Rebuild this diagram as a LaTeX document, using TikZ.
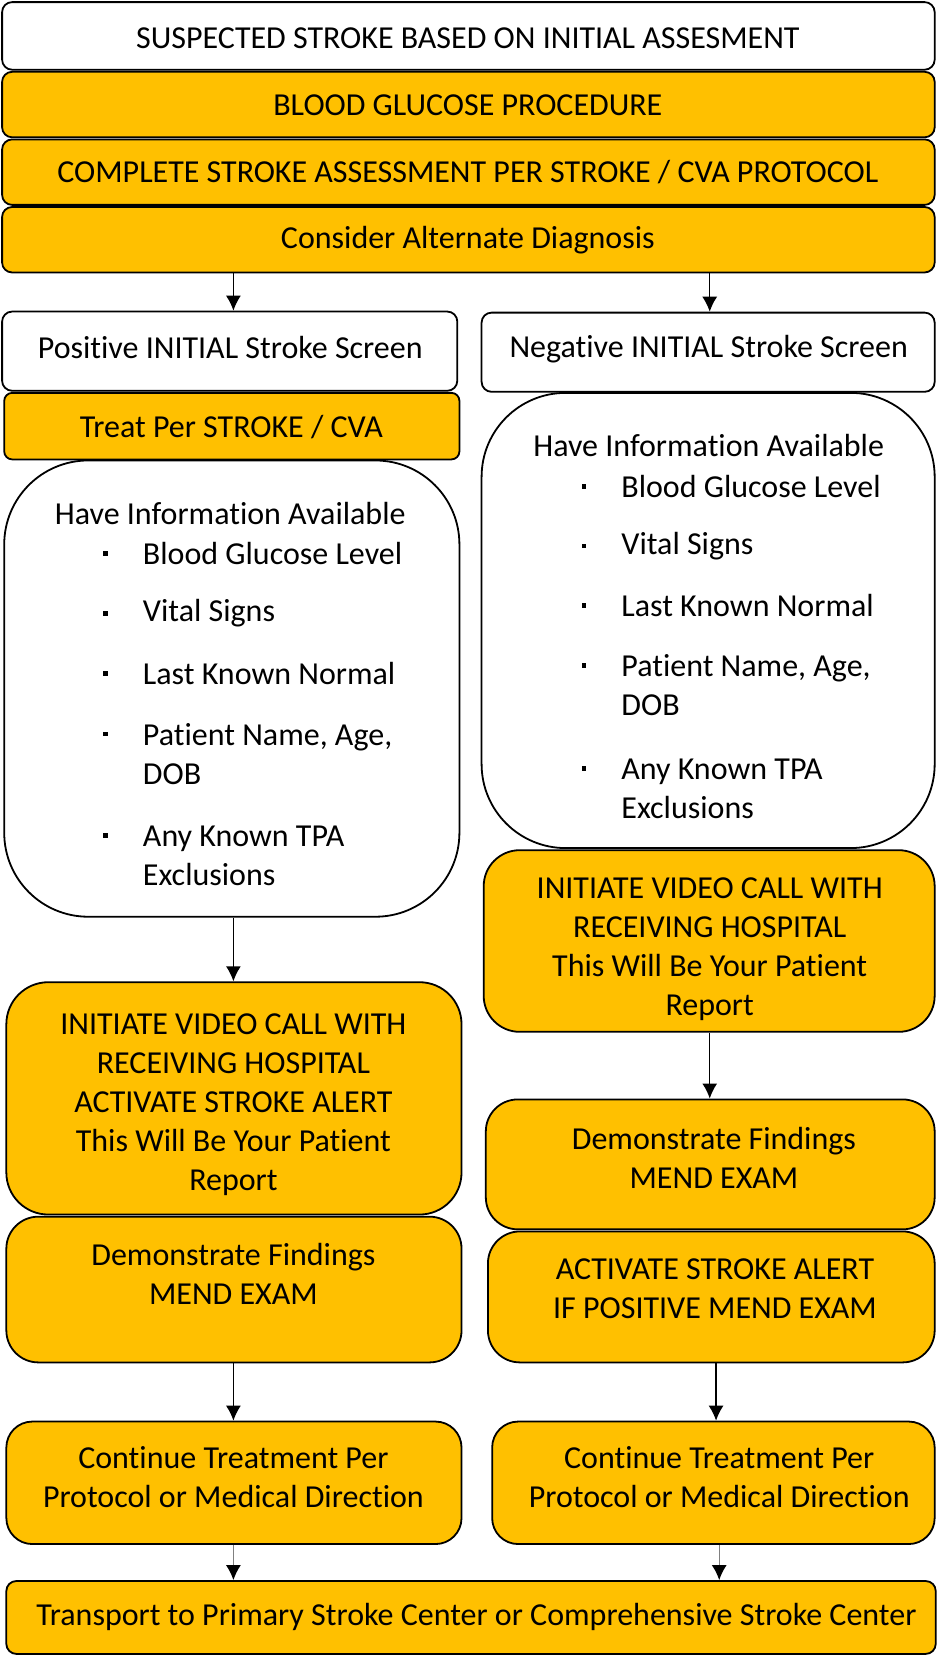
\documentclass[tikz,border=0pt]{standalone}
\usepackage{fontspec}
\setmainfont{Carlito}[Ligatures=NoCommon]
\usetikzlibrary{arrows.meta,fit}
\definecolor{gold}{HTML}{FFC000}
\tikzset{
  box/.style={draw=black, line width=0.9pt, inner sep=0pt},
  gbox/.style={box, fill=gold},
  wbox/.style={box, fill=white},
  txt/.style={font=\fontsize{16}{19.5}\selectfont, align=center, inner sep=0pt},
  ltxt/.style={font=\fontsize{16}{19.5}\selectfont, align=left, anchor=west, inner sep=0pt},
  bul/.style={fill=black, minimum size=2.4pt, inner sep=0pt},
  arr/.style={-{Latex[length=7.5pt,width=7.5pt]}, line width=0.7pt},
  garr/.style={draw=gray, -{Latex[length=7.5pt,width=7.5pt,color=black]}, line width=0.7pt}
}
\begin{document}
\begin{tikzpicture}[x=0.5282pt, y=-0.5282pt]
\useasboundingbox (0,0) rectangle (887,1568);
% top stack
\node[wbox, rounded corners=5pt, fit={(2,2)(885,66)}] (t1) {};
\node[gbox, rounded corners=5pt, fit={(2,68)(885,130)}] (b2) {};
\node[gbox, rounded corners=5pt, fit={(2,132)(885,194)}] (b3) {};
\node[gbox, rounded corners=5pt, fit={(2,196)(885,258)}] (b4) {};
\node[txt] (t1t) at (443,36) {SUSPECTED STROKE BASED ON INITIAL ASSESMENT};
\node[txt] (b2t) at (443,100) {BLOOD GLUCOSE PROCEDURE};
\node[txt] (b3t) at (443,163) {COMPLETE STROKE ASSESSMENT PER STROKE / CVA PROTOCOL};
\node[txt] (b4t) at (443,227) {Consider Alternate Diagnosis};
% left column
\node[wbox, rounded corners=5pt, fit={(2,295)(433,370)}] (pos) {};
\node[txt] (post) at (218,329) {Positive INITIAL Stroke Screen};
\node[gbox, rounded corners=4pt, fit={(4,372)(435,435)}] (treat) {};
\node[txt] (treatt) at (219,404) {Treat Per STROKE / CVA};
\node[wbox, rounded corners=42pt, fit={(4,436)(435,868)}] (linfo) {};
\node[txt] (lh) at (218,486) {Have Information Available};
\node[bul] (lb1) at (100,524) {};
\node[ltxt] (ll1) at (135,524) {Blood Glucose Level};
\node[bul] (lb2) at (100,581) {};
\node[ltxt] (ll2) at (135,581) {Vital Signs};
\node[bul] (lb3) at (100,638) {};
\node[ltxt] (ll3) at (135,638) {Last Known Normal};
\node[bul] (lb4) at (100,695) {};
\node[ltxt] (ll4) at (135,714) {Patient Name, Age,\\DOB};
\node[bul] (lb5) at (100,791) {};
\node[ltxt] (ll5) at (135,810) {Any Known TPA\\Exclusions};
\node[gbox, rounded corners=21pt, fit={(6,930)(437,1150)}] (lvid) {};
\node[txt] (lvidt) at (221,1046) {INITIATE VIDEO CALL WITH\\RECEIVING HOSPITAL\\ACTIVATE STROKE ALERT\\This Will Be Your Patient\\Report};
\node[gbox, rounded corners=16pt, fit={(6,1152)(437,1290)}] (ldem) {};
\node[txt] (ldemt) at (221,1206) {Demonstrate Findings\\MEND EXAM};
\node[gbox, rounded corners=13pt, fit={(6,1346)(437,1462)}] (lcont) {};
\node[txt] (lcontt) at (221,1399) {Continue Treatment Per\\Protocol or Medical Direction};
% right column
\node[wbox, rounded corners=5pt, fit={(456,296)(885,371)}] (neg) {};
\node[txt] (negt) at (671,331) {Negative INITIAL Stroke Screen};
\node[wbox, rounded corners=42pt, fit={(456,372)(885,803)}] (rinfo) {};
\node[txt] (rh) at (671,422) {Have Information Available};
\node[bul] (rb1) at (553,461) {};
\node[ltxt] (rl1) at (588,461) {Blood Glucose Level};
\node[bul] (rb2) at (553,517) {};
\node[ltxt] (rl2) at (588,517) {Vital Signs};
\node[bul] (rb3) at (553,573) {};
\node[ltxt] (rl3) at (588,573) {Last Known Normal};
\node[bul] (rb4) at (553,630) {};
\node[ltxt] (rl4) at (588,649) {Patient Name, Age,\\DOB};
\node[bul] (rb5) at (553,728) {};
\node[ltxt] (rl5) at (588,747) {Any Known TPA\\Exclusions};
\node[gbox, rounded corners=18pt, fit={(458,805)(885,977)}] (rvid) {};
\node[txt] (rvidt) at (672,899) {INITIATE VIDEO CALL WITH\\RECEIVING HOSPITAL\\This Will Be Your Patient\\Report};
\node[gbox, rounded corners=16pt, fit={(460,1041)(885,1164)}] (rdem) {};
\node[txt] (rdemt) at (676,1096) {Demonstrate Findings\\MEND EXAM};
\node[gbox, rounded corners=16pt, fit={(462,1166)(885,1290)}] (ract) {};
\node[txt] (ractt) at (677,1220) {ACTIVATE STROKE ALERT\\IF POSITIVE MEND EXAM};
\node[gbox, rounded corners=13pt, fit={(466,1346)(885,1462)}] (rcont) {};
\node[txt] (rcontt) at (681,1399) {Continue Treatment Per\\Protocol or Medical Direction};
% bottom
\node[gbox, rounded corners=5pt, fit={(6,1497)(886,1566)}] (trans) {};
\node[txt] (transt) at (451,1531) {Transport to Primary Stroke Center or Comprehensive Stroke Center};
% connectors
\coordinate (ax1) at (221,0);
\coordinate (ax2) at (672,0);
\coordinate (ax3) at (678,0);
\coordinate (ax4) at (681,0);
\draw[arr] (b4.south -| ax1) -- (pos.north -| ax1);
\draw[arr] (b4.south -| ax2) -- (neg.north -| ax2);
\draw[arr] (linfo.south -| ax1) -- (lvid.north -| ax1);
\draw[arr] (rvid.south -| ax2) -- (rdem.north -| ax2);
\draw[arr] (ldem.south -| ax1) -- (lcont.north -| ax1);
\draw[arr] (ract.south -| ax3) -- (rcont.north -| ax3);
\draw[garr] (lcont.south -| ax1) -- (trans.north -| ax1);
\draw[garr] (rcont.south -| ax4) -- (trans.north -| ax4);
\end{tikzpicture}
\end{document}
